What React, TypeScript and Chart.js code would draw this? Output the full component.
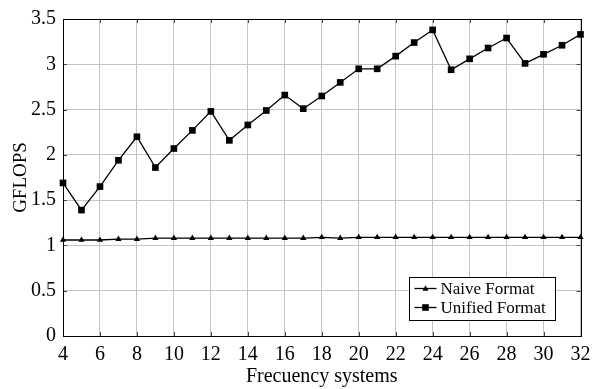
import React, { useEffect, useRef } from "react";
import { Chart, registerables } from "chart.js";

Chart.register(...registerables);

const frequencySystems = [4, 5, 6, 7, 8, 9, 10, 11, 12, 13, 14, 15, 16, 17, 18, 19, 20, 21, 22, 23, 24, 25, 26, 27, 28, 29, 30, 31, 32];
const naiveGflops = [1.06, 1.06, 1.06, 1.07, 1.07, 1.08, 1.08, 1.08, 1.08, 1.08, 1.08, 1.08, 1.08, 1.08, 1.09, 1.08, 1.09, 1.09, 1.09, 1.09, 1.09, 1.09, 1.09, 1.09, 1.09, 1.09, 1.09, 1.09, 1.09];
const unifiedGflops = [1.69, 1.39, 1.65, 1.94, 2.2, 1.86, 2.07, 2.27, 2.48, 2.16, 2.33, 2.49, 2.66, 2.51, 2.65, 2.8, 2.95, 2.95, 3.09, 3.24, 3.38, 2.94, 3.06, 3.18, 3.29, 3.01, 3.11, 3.21, 3.33];
const seriesLabels = ["Naive Format", "Unified Format"];
const xTitle = "Frecuency systems";
const yTitle = "GFLOPS";

const FONT = "'Liberation Serif', 'Times New Roman', serif";

const boxAndLegend = {
  id: "boxAndLegend",
  afterDatasetsDraw(chart: any) {
    const { ctx, chartArea } = chart;
    const { left, top, right, bottom } = chartArea;
    ctx.save();
    // inner tick marks on all four sides
    const tl = 4;
    ctx.strokeStyle = "#444";
    ctx.lineWidth = 1;
    ctx.beginPath();
    chart.scales.x.ticks.forEach((t: any) => {
      const px = Math.round(chart.scales.x.getPixelForValue(t.value)) + 0.5;
      ctx.moveTo(px, bottom);
      ctx.lineTo(px, bottom - tl);
      ctx.moveTo(px, top);
      ctx.lineTo(px, top + tl);
    });
    chart.scales.y.ticks.forEach((t: any) => {
      const py = Math.round(chart.scales.y.getPixelForValue(t.value)) + 0.5;
      ctx.moveTo(left, py);
      ctx.lineTo(left + tl, py);
      ctx.moveTo(right, py);
      ctx.lineTo(right - tl, py);
    });
    ctx.stroke();

    ctx.strokeStyle = "#000";
    ctx.lineWidth = 1;
    ctx.strokeRect(Math.round(left) + 0.5, Math.round(top) + 0.5, Math.round(right - left), Math.round(bottom - top));

    // legend
    const bw = 146;
    const bh = 43;
    const bx = right - 26 - bw;
    const by = bottom - 16 - bh;
    ctx.fillStyle = "#fff";
    ctx.fillRect(bx, by, bw, bh);
    ctx.strokeStyle = "#000";
    ctx.lineWidth = 1;
    ctx.strokeRect(Math.round(bx) + 0.5, Math.round(by) + 0.5, bw, bh);
    const rows = [by + 11.5, by + 30.5];
    chart.data.datasets.forEach((ds: any, i: number) => {
      const y = rows[i];
      const x0 = bx + 6;
      const x1 = bx + 28;
      ctx.strokeStyle = "#000";
      ctx.lineWidth = 1.3;
      ctx.beginPath();
      ctx.moveTo(x0, y);
      ctx.lineTo(x1, y);
      ctx.stroke();
      const cx = (x0 + x1) / 2;
      ctx.fillStyle = "#000";
      ctx.beginPath();
      if (ds.pointStyle === "rect") {
        ctx.rect(cx - 3.3, y - 3.3, 6.6, 6.6);
      } else {
        ctx.moveTo(cx, y - 3.2);
        ctx.lineTo(cx + 3, y + 2.2);
        ctx.lineTo(cx - 3, y + 2.2);
        ctx.closePath();
      }
      ctx.fill();
      ctx.font = `17px ${FONT}`;
      ctx.textAlign = "left";
      ctx.textBaseline = "middle";
      ctx.fillText(ds.label, x1 + 4, y + 1);
    });
    ctx.restore();
  },
};

export default function App() {
  const ref = useRef<HTMLCanvasElement | null>(null);

  useEffect(() => {
    document.body.style.margin = "0";
    const canvas = ref.current;
    if (!canvas) return;
    const chart = new Chart(canvas, {
      type: "line",
      data: {
        datasets: [
          {
            label: seriesLabels[0],
            data: frequencySystems.map((x, i) => ({ x, y: naiveGflops[i] })),
            borderColor: "#000",
            backgroundColor: "#000",
            borderWidth: 1.3,
            pointStyle: "triangle",
            pointRadius: 3.6,
            pointBackgroundColor: "#000",
            pointBorderWidth: 0,
            tension: 0,
            clip: false,
          },
          {
            label: seriesLabels[1],
            data: frequencySystems.map((x, i) => ({ x, y: unifiedGflops[i] })),
            borderColor: "#000",
            backgroundColor: "#000",
            borderWidth: 1.3,
            pointStyle: "rect",
            pointRadius: 4.7,
            pointBackgroundColor: "#000",
            pointBorderWidth: 0,
            tension: 0,
            clip: false,
          },
        ],
      },
      options: {
        animation: false,
        responsive: false,
        maintainAspectRatio: false,
        layout: { padding: { top: 12, right: 24.5, left: 0, bottom: 0 } },
        plugins: {
          legend: { display: false },
          tooltip: { enabled: false },
        },
        scales: {
          x: {
            type: "linear",
            min: 4,
            max: 32,
            grid: { color: "#c4c4c4", lineWidth: 1, drawTicks: false },
            border: { display: true, color: "#000" },
            ticks: {
              stepSize: 2,
              padding: 7,
              color: "#000",
              font: { family: FONT, size: 20 },
              maxRotation: 0,
            },
            title: {
              display: true,
              text: xTitle,
              color: "#000",
              font: { family: FONT, size: 20 },
              padding: { top: 0, bottom: 0 },
            },
            afterFit(scale: any) {
              scale.height = 53;
            },
          },
          y: {
            type: "linear",
            min: 0,
            max: 3.5,
            grid: { color: "#c4c4c4", lineWidth: 1, drawTicks: false },
            border: { display: true, color: "#000" },
            ticks: {
              stepSize: 0.5,
              padding: 7,
              color: "#000",
              font: { family: FONT, size: 20 },
              callback: (v: any) => String(+Number(v).toFixed(2)),
            },
            title: {
              display: true,
              text: yTitle,
              color: "#000",
              font: { family: FONT, size: 19 },
              padding: { top: 10, bottom: 0 },
            },
            afterFit(scale: any) {
              scale.width = 63;
            },
          },
        },
      },
      plugins: [boxAndLegend],
    });
    return () => chart.destroy();
  }, []);

  return (
    <div style={{ width: 605, height: 389 }}>
      <canvas ref={ref} width={605} height={389} style={{ display: "block" }} />
    </div>
  );
}
